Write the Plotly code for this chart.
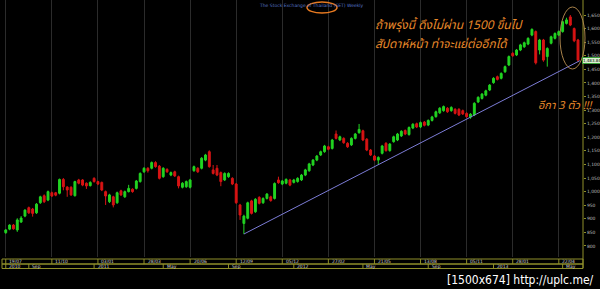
import plotly.graph_objects as go

# ---------------- data (weekly candles) ----------------
open_ = [849, 862, 877, 859, 888, 910, 941, 936, 922, 959,
         985, 969, 996, 996, 994, 1045, 1017, 1016, 985, 1043,
         1043, 1031, 1022, 1049, 1037, 1034, 1000, 963, 981, 959,
         1003, 981, 1000, 1009, 1012, 1037, 1073, 1086, 1086, 1107,
         1094, 1055, 1082, 1061, 1073, 1055, 1016, 1018, 1016, 1077,
         1086, 1086, 1116, 1147, 1080, 1086, 1070, 1043, 1055, 1049,
         1028, 951, 883, 902, 966, 926, 979, 959, 975, 981,
         975, 1043, 1028, 1031, 1043, 1034, 1037, 1043, 1061, 1077,
         1098, 1116, 1135, 1147, 1165, 1159, 1212, 1190, 1196, 1178,
         1172, 1196, 1217, 1224, 1193, 1153, 1131, 1116, 1141, 1178,
         1151, 1184, 1190, 1205, 1225, 1210, 1234, 1250, 1238, 1256,
         1245, 1262, 1276, 1290, 1298, 1307, 1298, 1303, 1303, 1298,
         1288, 1274, 1282, 1330, 1343, 1355, 1374, 1401, 1423, 1417,
         1441, 1466, 1509, 1503, 1521, 1533, 1543, 1576, 1589, 1521,
         1558, 1497, 1546, 1564, 1576, 1589, 1619, 1643, 1600, 1558]
high = [862, 880, 881, 902, 910, 935, 945, 940, 958, 985,
        990, 1004, 1000, 999, 1048, 1050, 1020, 1020, 1040, 1047,
        1046, 1034, 1038, 1053, 1040, 1037, 1004, 992, 985, 1000,
        1007, 1004, 1025, 1012, 1043, 1071, 1090, 1090, 1111, 1112,
        1098, 1090, 1086, 1074, 1077, 1059, 1035, 1041, 1047, 1096,
        1090, 1127, 1139, 1152, 1098, 1098, 1074, 1071, 1071, 1053,
        1032, 955, 915, 963, 970, 976, 983, 979, 995, 985,
        1034, 1055, 1043, 1049, 1047, 1047, 1053, 1065, 1084, 1106,
        1120, 1135, 1151, 1172, 1169, 1194, 1225, 1206, 1200, 1182,
        1200, 1216, 1249, 1228, 1197, 1157, 1135, 1130, 1172, 1182,
        1179, 1206, 1216, 1226, 1229, 1240, 1252, 1254, 1258, 1260,
        1266, 1279, 1298, 1311, 1317, 1311, 1314, 1307, 1307, 1302,
        1292, 1289, 1329, 1351, 1363, 1375, 1396, 1421, 1427, 1439,
        1464, 1501, 1513, 1525, 1544, 1552, 1568, 1601, 1593, 1562,
        1562, 1531, 1574, 1586, 1593, 1629, 1640, 1650, 1604, 1562]
low = [845, 858, 860, 852, 885, 906, 918, 908, 918, 955,
       958, 965, 980, 983, 990, 1005, 981, 984, 982, 1027,
       1020, 1010, 1019, 1033, 1024, 1002, 951, 958, 942, 955,
       984, 977, 997, 996, 1008, 1033, 1069, 1070, 1082, 1088,
       1045, 1051, 1069, 1057, 1054, 1012, 1012, 1014, 1012, 1073,
       1069, 1082, 1112, 1088, 1063, 1057, 1020, 1039, 1051, 1024,
       955, 896, 844, 898, 916, 922, 953, 955, 971, 963,
       971, 1029, 1024, 1027, 1020, 1030, 1033, 1039, 1057, 1073,
       1094, 1112, 1131, 1143, 1152, 1155, 1192, 1186, 1176, 1161,
       1168, 1192, 1213, 1186, 1149, 1131, 1112, 1098, 1137, 1147,
       1147, 1180, 1186, 1201, 1208, 1206, 1230, 1234, 1234, 1240,
       1241, 1258, 1272, 1286, 1294, 1290, 1294, 1284, 1278, 1282,
       1272, 1268, 1278, 1326, 1339, 1351, 1370, 1397, 1409, 1413,
       1437, 1462, 1496, 1499, 1517, 1529, 1539, 1572, 1468, 1505,
       1478, 1460, 1542, 1560, 1572, 1585, 1615, 1609, 1550, 1478]
close = [859, 877, 863, 896, 903, 932, 922, 920, 954, 981,
         963, 1000, 984, 987, 1045, 1018, 1006, 988, 1037, 1031,
         1024, 1021, 1034, 1037, 1028, 1006, 984, 988, 951, 996,
         988, 1000, 1012, 1000, 1039, 1067, 1086, 1077, 1107, 1092,
         1049, 1086, 1073, 1070, 1058, 1021, 1031, 1037, 1043, 1092,
         1073, 1123, 1135, 1092, 1067, 1061, 1037, 1067, 1067, 1028,
         959, 914, 910, 959, 920, 972, 957, 975, 991, 967,
         1030, 1033, 1039, 1045, 1024, 1043, 1049, 1061, 1080, 1102,
         1116, 1131, 1147, 1168, 1156, 1190, 1196, 1202, 1180, 1165,
         1196, 1212, 1229, 1190, 1153, 1135, 1116, 1126, 1168, 1151,
         1175, 1202, 1212, 1222, 1212, 1236, 1248, 1238, 1254, 1244,
         1262, 1275, 1294, 1307, 1313, 1294, 1310, 1288, 1282, 1286,
         1276, 1285, 1325, 1347, 1359, 1371, 1392, 1417, 1413, 1435,
         1460, 1497, 1500, 1521, 1540, 1548, 1564, 1597, 1474, 1558,
         1484, 1527, 1570, 1582, 1589, 1625, 1632, 1613, 1555, 1484]
weeks = list(range(len(close)))

grid_weeks = [0, 12, 24, 36, 48, 60, 72, 84, 96, 108, 120, 132, 144]
date_labels = ["19/07", "11/10", "03/01", "28/03", "20/06", "12/09", "05/12",
               "27/02", "21/05", "13/08", "05/11", "28/01", "22/04"]
month_weeks = [0, 6, 23, 41, 58, 75, 93, 110, 127, 145]
month_labels = ["2010", "Sep", "2011", "May", "Sep", "2012", "May", "Sep", "2013", "May"]
y_ticks = [800, 850, 900, 950, 1000, 1050, 1100, 1150, 1200, 1250,
           1300, 1350, 1400, 1450, 1500, 1550, 1600, 1650]
trend_x = [62, 149.5]
trend_y = [844, 1482]
last_price_label = "1,483.84"

# ---------------- layout helpers (pixel -> paper) ----------------
PW, PH = 583.0, 257.0
def fx(p):
    return p / PW
def fy(p):
    return (PH - p) / PH

OLIVE = "#8f8f2a"
ORANGE = "#e8892a"

fig = go.Figure()
fig.add_trace(go.Candlestick(
    x=weeks, open=open_, high=high, low=low, close=close,
    increasing=dict(line=dict(color="#22d422", width=1), fillcolor="#22d422"),
    decreasing=dict(line=dict(color="#d81414", width=1), fillcolor="#d81414"),
    whiskerwidth=0, hoverinfo="skip", showlegend=False,
))
fig.add_trace(go.Scatter(
    x=trend_x, y=trend_y, mode="lines",
    line=dict(color="#7c7cd6", width=1), hoverinfo="skip", showlegend=False,
))

shapes = []
shapes.append(dict(type="line", xref="paper", yref="paper", x0=1, x1=1,
                   y0=1, y1=fy(268), line=dict(color=OLIVE, width=1)))
shapes.append(dict(type="rect", xref="paper", yref="paper", x0=fx(2), x1=1,
                   y0=fy(264), y1=fy(259), line=dict(color=OLIVE, width=1)))
shapes.append(dict(type="rect", xref="paper", yref="paper", x0=fx(2), x1=1,
                   y0=fy(268.5), y1=fy(264), line=dict(color=OLIVE, width=1)))
for w in grid_weeks:
    shapes.append(dict(type="line", xref="x", yref="paper", x0=w, x1=w,
                       y0=fy(264), y1=fy(259), line=dict(color=OLIVE, width=1)))
for w in month_weeks:
    shapes.append(dict(type="line", xref="x", yref="paper", x0=w, x1=w,
                       y0=fy(268.5), y1=fy(264), line=dict(color=OLIVE, width=1)))
shapes.append(dict(type="circle", xref="paper", yref="paper",
                   x0=fx(307), x1=fx(337), y0=fy(13), y1=fy(2),
                   line=dict(color="#e87a20", width=1.5)))
shapes.append(dict(type="circle", xref="paper", yref="paper",
                   x0=fx(560), x1=fx(585), y0=fy(69), y1=fy(7),
                   line=dict(color="#a8824a", width=1)))

annotations = []
for w, t in zip(grid_weeks, date_labels):
    annotations.append(dict(x=w + 0.4, xref="x", y=fy(261.6), yref="paper",
                            text=t, showarrow=False, xanchor="left", yanchor="middle",
                            font=dict(size=4.5, color="#cfcfcf", family="DejaVu Sans")))
for w, t in zip(month_weeks, month_labels):
    annotations.append(dict(x=w + 0.4, xref="x", y=fy(266.3), yref="paper",
                            text=t, showarrow=False, xanchor="left", yanchor="middle",
                            font=dict(size=4.5, color="#cfcfcf", family="DejaVu Sans")))
annotations.append(dict(x=fx(257), y=fy(5), xref="paper", yref="paper",
                        text="The Stock Exchange of Thailand (SET) Weekly",
                        showarrow=False, xanchor="left", yanchor="middle",
                        font=dict(size=4.5, color="#5675c8", family="DejaVu Sans")))
thai_font = "Noto Sans Thai, Loma, Garuda, Tlwg Typo, DejaVu Sans, sans-serif"
annotations.append(dict(x=fx(373), y=fy(25), xref="paper", yref="paper",
                        text="<i>ถ้าพรุ่งนี้ ดึงไม่ผ่าน 1500 ขึ้นไป</i>",
                        showarrow=False, xanchor="left", yanchor="middle",
                        font=dict(size=12, color=ORANGE, family=thai_font)))
annotations.append(dict(x=fx(373), y=fy(44), xref="paper", yref="paper",
                        text="<i>สัปดาห์หน้า ท่าจะแย่ต่ออีกได้</i>",
                        showarrow=False, xanchor="left", yanchor="middle",
                        font=dict(size=12, color=ORANGE, family=thai_font)))
annotations.append(dict(x=fx(536), y=fy(105), xref="paper", yref="paper",
                        text="<i>อีกา 3 ตัว !!!</i>",
                        showarrow=False, xanchor="left", yanchor="middle",
                        font=dict(size=11, color=ORANGE, family=thai_font)))
annotations.append(dict(x=fx(582), y=fy(60.8), xref="paper", yref="paper",
                        text=last_price_label, showarrow=False,
                        xanchor="left", yanchor="middle",
                        bgcolor="#d8f2d0", bordercolor="#3aa03a", borderwidth=1, borderpad=0,
                        font=dict(size=4, color="#000000", family="DejaVu Sans")))
annotations.append(dict(x=fx(596), y=fy(279.5), xref="paper", yref="paper",
                        text="[1500x674] http://uplc.me/", showarrow=False,
                        xanchor="right", yanchor="middle",
                        font=dict(size=12, color="#ffffff", family="DejaVu Sans Condensed, Liberation Sans Narrow, DejaVu Sans")))

fig.update_layout(
    width=600, height=289,
    margin=dict(l=0, r=17, t=0, b=32),
    paper_bgcolor="#000000", plot_bgcolor="#000000",
    showlegend=False,
    shapes=shapes, annotations=annotations,
    xaxis=dict(range=[-1.5, 150.3], tickvals=grid_weeks, showticklabels=False,
               ticks="", showgrid=True, gridcolor="#2b2b2b", gridwidth=1,
               zeroline=False, showline=False, rangeslider=dict(visible=False),
               fixedrange=True),
    yaxis=dict(range=[759.5, 1705.2], side="right", tickvals=y_ticks,
               tickformat=",.0f", ticks="outside", ticklen=2, tickcolor=OLIVE,
               tickfont=dict(size=4.5, color="#bdbdbd", family="DejaVu Sans"),
               showgrid=False, zeroline=False, showline=False, fixedrange=True),
)

fig.write_html("out.html")
